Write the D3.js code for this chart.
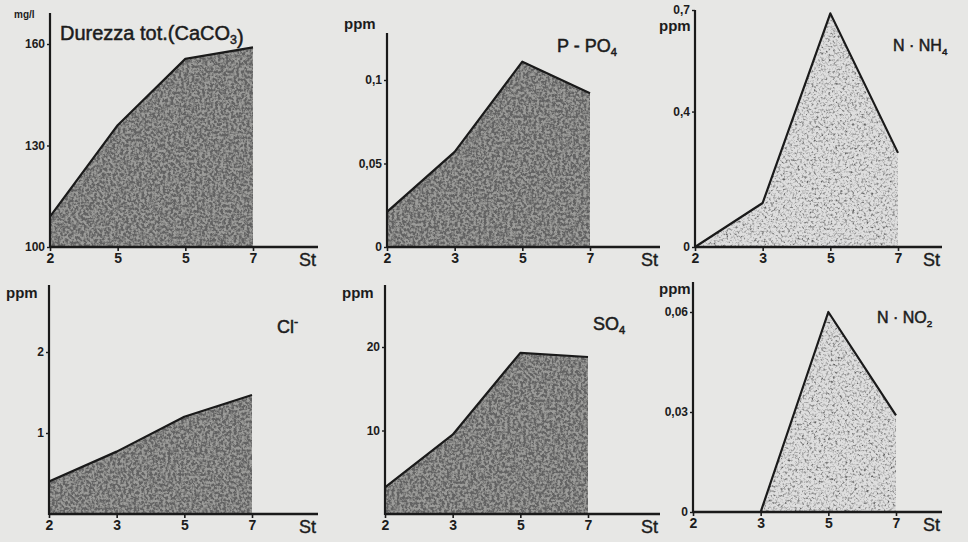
<!DOCTYPE html>
<html>
<head>
<meta charset="utf-8">
<script src="https://cdn.jsdelivr.net/npm/d3@7"></script>
<style>
  body { margin: 0; background: #e7e7e5; }
  svg { display: block; }
  text { font-family: "Liberation Sans", Arial, sans-serif; fill: #1c1c1c; }
</style>
</head>
<body>
<svg id="chart" width="968" height="542"></svg>
<script>
// stations along the river (x axis)
const stations = [2, 3, 5, 7];

// series values
const durezza = [109, 136, 155.6, 159];
const pPO4 = [0.021, 0.057, 0.111, 0.092];
const nNH4 = [0, 0.13, 0.69, 0.278];
const chloride = [0.40, 0.77, 1.20, 1.47];
const so4 = [3.2, 9.5, 19.3, 18.8];
const nNO2 = [0, 0, 0.06, 0.029];

// tick labels (as printed)
const xLabelsDurezza = ['2', '5', '5', '7'];
const xLabels = ['2', '3', '5', '7'];
const yTicksDurezza = [100, 130, 160];
const yLabelsDurezza = ['100', '130', '160'];
const yTicksPO4 = [0, 0.05, 0.1];
const yLabelsPO4 = ['0', '0,05', '0,1'];
const yTicksNH4 = [0, 0.4, 0.7];
const yLabelsNH4 = ['0', '0,4', '0,7'];
const yTicksCl = [1, 2];
const yLabelsCl = ['1', '2'];
const yTicksSO4 = [10, 20];
const yLabelsSO4 = ['10', '20'];
const yTicksNO2 = [0, 0.03, 0.06];
const yLabelsNO2 = ['0', '0,03', '0,06'];

const svg = d3.select('#chart');
const defs = svg.append('defs');

// scanned stipple texture
const makeGrain = (id, freq, slope, offset, seed) => {
  const f = defs.append('filter').attr('id', id)
      .attr('x', 0).attr('y', 0).attr('width', 1).attr('height', 1);
  f.append('feTurbulence')
      .attr('type', 'fractalNoise')
      .attr('baseFrequency', freq)
      .attr('numOctaves', 3)
      .attr('seed', seed)
      .attr('result', 'noise');
  f.append('feColorMatrix')
      .attr('in', 'noise')
      .attr('type', 'matrix')
      .attr('values', `0 0 0 0 0.12  0 0 0 0 0.12  0 0 0 0 0.12  ${slope} 0 0 0 ${offset}`)
      .attr('result', 'dots');
  f.append('feComposite')
      .attr('in', 'dots').attr('in2', 'SourceGraphic')
      .attr('operator', 'in').attr('result', 'clipped');
  const m = f.append('feMerge');
  m.append('feMergeNode').attr('in', 'SourceGraphic');
  m.append('feMergeNode').attr('in', 'clipped');
};
makeGrain('grainDark', 0.38, 3.6, -1.25, 3);
makeGrain('grainLight', 0.42, 2.8, -1.3, 7);

const panels = [
  {values: durezza, xLabels: xLabelsDurezza, yTicks: yTicksDurezza,
    yLabels: yLabelsDurezza, yDomain: [100, 160], x0: 50, base: 247,
    top: 44, axisTop: 13, axisEnd: 318, unit: 'mg/l', unitX: 14, unitY: 18,
    title: [['Durezza tot.(CaCO', ''], ['3', 'sub'], [')', '']],
    titleX: 60, titleY: 40, titleSize: 20, light: false},
  {values: pPO4, xLabels: xLabels, yTicks: yTicksPO4, yLabels: yLabelsPO4,
    yDomain: [0, 0.1], x0: 387, base: 247, top: 80, axisTop: 33,
    axisEnd: 660, unit: 'ppm', unitX: 344, unitY: 29,
    title: [['P - PO', ''], ['4', 'sub']],
    titleX: 557, titleY: 52, titleSize: 18, light: false},
  {values: nNH4, xLabels: xLabels, yTicks: yTicksNH4, yLabels: yLabelsNH4,
    yDomain: [0, 0.7], x0: 695, base: 247, top: 10, axisTop: 10,
    axisEnd: 942, unit: 'ppm', unitX: 659, unitY: 31,
    title: [['N · NH', ''], ['4', 'sub']],
    titleX: 893, titleY: 51, titleSize: 16, light: true},
  {values: chloride, xLabels: xLabels, yTicks: yTicksCl, yLabels: yLabelsCl,
    yDomain: [0, 2], x0: 49, base: 514, top: 352, axisTop: 285,
    axisEnd: 318, unit: 'ppm', unitX: 6, unitY: 298,
    title: [['Cl', ''], ['-', 'sup']],
    titleX: 277, titleY: 333, titleSize: 18, light: false},
  {values: so4, xLabels: xLabels, yTicks: yTicksSO4, yLabels: yLabelsSO4,
    yDomain: [0, 20], x0: 385, base: 514, top: 347, axisTop: 285,
    axisEnd: 660, unit: 'ppm', unitX: 342, unitY: 298,
    title: [['SO', ''], ['4', 'sub']],
    titleX: 593, titleY: 330, titleSize: 18, light: false},
  {values: nNO2, xLabels: xLabels, yTicks: yTicksNO2, yLabels: yLabelsNO2,
    yDomain: [0, 0.06], x0: 693, base: 512, top: 312, axisTop: 282,
    axisEnd: 942, unit: 'ppm', unitX: 659, unitY: 294,
    title: [['N · NO', ''], ['2', 'sub']],
    titleX: 877, titleY: 323, titleSize: 16, light: true},
];

panels.forEach((p) => {
  const g = svg.append('g');
  const x = d3.scalePoint().domain(stations).range([p.x0, p.x0 + 203]);
  const y = d3.scaleLinear().domain(p.yDomain).range([p.base, p.top]);
  const pts = stations.map((s, i) => ({s: s, v: p.values[i]}));

  // shaded area under the curve
  const area = d3.area()
      .x((d) => x(d.s))
      .y0(p.base)
      .y1((d) => y(d.v));
  g.append('path')
      .datum(pts)
      .attr('d', area)
      .attr('fill', p.light ? '#dedede' : '#9c9c9a')
      .attr('filter', p.light ? 'url(#grainLight)' : 'url(#grainDark)');

  // outline
  const line = d3.line()
      .x((d) => x(d.s))
      .y((d) => y(d.v));
  g.append('path')
      .datum(pts)
      .attr('d', line)
      .attr('fill', 'none')
      .attr('stroke', '#1a1a1a')
      .attr('stroke-width', 2.2)
      .attr('stroke-linejoin', 'round');

  // axes lines
  g.append('line')
      .attr('x1', p.x0).attr('x2', p.x0)
      .attr('y1', p.axisTop).attr('y2', p.base + 1)
      .attr('stroke', '#1a1a1a').attr('stroke-width', 2.2);
  g.append('line')
      .attr('x1', p.x0).attr('x2', p.axisEnd)
      .attr('y1', p.base).attr('y2', p.base)
      .attr('stroke', '#1a1a1a').attr('stroke-width', 2.4);

  // x axis ticks and labels
  const xAxis = d3.axisBottom(x)
      .tickSize(4)
      .tickPadding(2)
      .tickFormat((d, i) => p.xLabels[i]);
  const xa = g.append('g')
      .attr('transform', `translate(0,${p.base})`)
      .call(xAxis);
  xa.select('.domain').remove();
  xa.selectAll('.tick line').attr('stroke', '#1a1a1a').attr('stroke-width', 1.6);
  xa.selectAll('.tick text')
      .attr('fill', '#1c1c1c')
      .style('font-size', '14px')
      .style('font-weight', 'bold')
      .style('font-family', '"Liberation Sans", Arial, sans-serif');

  // y axis ticks and labels
  const yAxis = d3.axisLeft(y)
      .tickValues(p.yTicks)
      .tickSize(3)
      .tickPadding(2)
      .tickFormat((d, i) => p.yLabels[i]);
  const ya = g.append('g')
      .attr('transform', `translate(${p.x0},0)`)
      .call(yAxis);
  ya.select('.domain').remove();
  ya.selectAll('.tick line').attr('stroke', '#1a1a1a').attr('stroke-width', 1.4);
  ya.selectAll('.tick text')
      .attr('fill', '#1c1c1c')
      .style('font-size', '12px')
      .style('font-weight', 'bold')
      .style('font-family', '"Liberation Sans", Arial, sans-serif');

  // unit label
  g.append('text')
      .attr('x', p.unitX).attr('y', p.unitY)
      .style('font-size', p.unit === 'mg/l' ? '10px' : '15px')
      .style('font-weight', 'bold')
      .text(p.unit);

  // "St" label
  g.append('text')
      .attr('x', p.axisEnd - 2).attr('y', p.base + 19)
      .attr('text-anchor', 'end')
      .style('font-size', '18px')
      .attr('stroke', '#1c1c1c').attr('stroke-width', 0.4)
      .text('St');

  // title with sub/superscripts
  const t = g.append('text')
      .attr('x', p.titleX).attr('y', p.titleY)
      .attr('stroke', '#1c1c1c').attr('stroke-width', 0.5)
      .style('font-size', `${p.titleSize}px`);
  p.title.forEach(([txt, kind]) => {
    const span = t.append('tspan').text(txt);
    if (kind === 'sub') {
      span.attr('dy', 4).style('font-size', `${p.titleSize * 0.62}px`);
    } else if (kind === 'sup') {
      span.attr('dy', -7).style('font-size', `${p.titleSize * 0.7}px`);
    }
  });
});
</script>
</body>
</html>
